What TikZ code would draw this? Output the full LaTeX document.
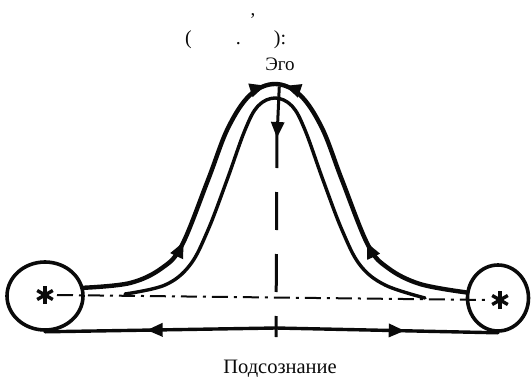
\documentclass[tikz,border=0pt]{standalone}
\usepackage{fontspec}
\setmainfont{Liberation Serif}
\usetikzlibrary{shapes.geometric, arrows.meta, decorations.markings}
\definecolor{ink}{RGB}{10, 10, 10}
\tikzset{
    wheel/.style={
        ellipse, draw=ink, line width=3.6pt, inner sep=0pt
    },
    flowline/.style={line width=4.4pt, draw=ink, line cap=round},
    innerline/.style={line width=3.4pt, draw=ink, line cap=round},
    baseline/.style={line width=3.4pt, draw=ink, line cap=round},
    axisline/.style={draw=ink, line width=2pt,
        dash pattern=on 16pt off 6pt on 3pt off 6pt},
    dropline/.style={draw=ink, line width=3pt, dash pattern=on 38pt off 24pt},
    headtip/.tip={Triangle[length=16pt, width=13pt]},
    fourheads/.style={postaction={decorate}, decoration={markings,
        mark=at position 0.19 with {\arrow{headtip}},
        mark=at position 0.484 with {\arrow{headtip}},
        mark=at position 0.516 with {\arrowreversed{headtip}},
        mark=at position 0.81 with {\arrowreversed{headtip}}}},
    onehead/.style={postaction={decorate}, decoration={markings,
        mark=at position #1 with {\arrow{headtip}}}},
    txt/.style={font=\fontsize{19}{22}\selectfont, text=ink, inner sep=0pt}
}

\begin{document}
\begin{tikzpicture}[x=1pt, y=-1pt]
    \useasboundingbox (0,0) rectangle (531,378);

    % heading (as printed)
    \node[txt, anchor=base] (comma) at (253,15) {,};
    \node[txt, anchor=base west, font=\fontsize{20}{22}\selectfont] (heading) at (185,44)
        {(\hspace{44pt}.\hspace{33pt}):};
    \node[txt, anchor=base] (ego) at (280,70) {Эго};
    \node[txt, anchor=base, font=\fontsize{20.5}{24}\selectfont] (sub) at (280,373) {Подсознание};

    % the two wheels
    \node[wheel, minimum width=76pt, minimum height=68pt] (lcirc) at (45,296) {};
    \node[wheel, minimum width=61pt, minimum height=66pt] (rcirc) at (498,298) {};
    \coordinate (lstar) at (45,295);
    \coordinate (rstar) at (500,300);
    \foreach \c in {lstar, rstar}
        \foreach \a in {90, 30, 150}
            \draw[ink, line width=3.4pt] (\c) ++(\a:9) -- ++(\a+180:18);

    % axis between the wheels
    \draw[axisline] ([xshift=12pt]lstar) -- ([xshift=-10pt]rstar);

    % outer bell
    \draw[flowline, fourheads] plot[smooth, tension=0.6] coordinates {(lcirc.12) (130,283) (162,268)
        (182,245) (208,180) (228,128) (250,95) (275,84) (300,95) (322,128) (342,180)
        (368,245) (388,268) (420,284) (rcirc.170)};

    % inner bell
    \draw[innerline] plot[smooth, tension=0.6] coordinates {(125,294) (165,285) (190,265) (208,230)
        (227,180) (245,130) (258,106) (275,98) (292,106) (305,130) (323,180) (342,230)
        (360,265) (385,285) (425,298)};

    % from Ego down to the base
    \coordinate (mid) at (277,138);
    \coordinate (base) at (276,337);
    \coordinate (foot) at (276,328);
    \draw[ink, line width=3pt, -{headtip}, shorten <=16pt] (ego.south) -- (mid);
    \draw[dropline] ([yshift=8pt]mid) -- (base);

    % base line back to the wheels
    \draw[baseline, onehead=0.56] (foot) -- (lcirc.south);
    \draw[baseline, onehead=0.58] (foot) -- (rcirc.south);
\end{tikzpicture}
\end{document}
